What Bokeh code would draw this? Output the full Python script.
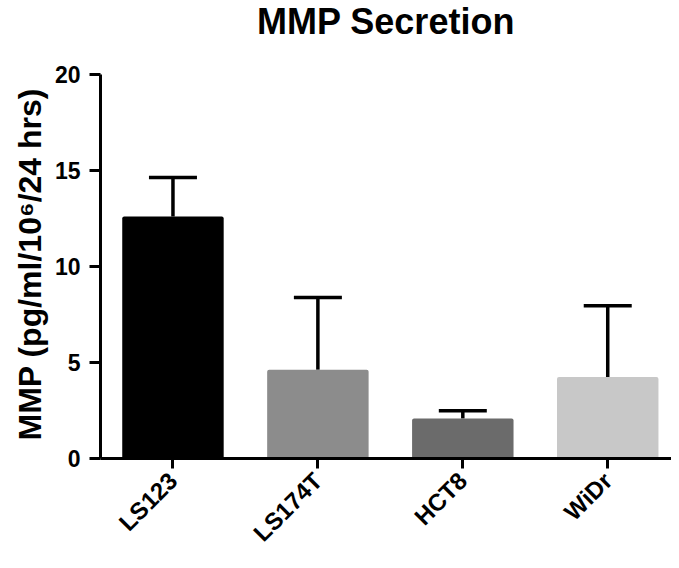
from bokeh.plotting import figure
from bokeh.models import Range1d, FixedTicker, Whisker, ColumnDataSource, TeeHead, Label, Title
from bokeh.embed import file_html
from bokeh.resources import INLINE
import math

cells = ["LS123", "LS174T", "HCT8", "WiDr"]
mean = [12.6, 4.62, 2.08, 4.25]
upper = [14.64, 8.39, 2.49, 7.95]
colors = ["#000000", "#8c8c8c", "#6b6b6b", "#c8c8c8"]
y_ticks = [0, 5, 10, 15, 20]
positions = list(range(len(cells)))
title_text = "MMP Secretion"
y_label_text = "MMP (pg/ml/10\u2076/24 hrs)"

FONT = "Liberation Sans"

# layout (pixels)
W, H = 671, 560
BL, BR, BB = 100, 0, 102
AXIS_TOP = 74          # y axis top (value 20) measured from top of canvas
TITLE_BASE = 21        # title anchor from top of canvas
YLABEL_START = 18      # y label starts this far above the x axis
FH = H - BB            # frame height (frame starts at top of canvas)
y_axis_max = y_ticks[-1]
y_end = y_axis_max * FH / (FH - AXIS_TOP)
px_per_unit = FH / y_end
x0, x1 = -0.5, 3.44

src = ColumnDataSource(dict(x=positions, top=mean, upper=upper, color=colors, name=cells))

p = figure(width=W, height=H, output_backend="svg", toolbar_location=None,
           x_range=Range1d(x0, x1), y_range=Range1d(0, y_end),
           min_border_left=BL, min_border_right=BR, min_border_top=0, min_border_bottom=BB)

p.vbar(x="x", top="top", bottom=0, width=0.7, color="color", line_color=None,
       border_radius=2, source=src)

w = Whisker(base="x", lower="top", upper="upper", source=src, dimension="height",
            line_color="black", line_width=3.5,
            upper_head=TeeHead(size=48, line_color="black", line_width=3.5),
            lower_head=None)
p.add_layout(w)

p.add_layout(Label(x=(x0 + x1) / 2, y=y_end - TITLE_BASE / px_per_unit, text=title_text,
                   text_font=FONT, text_font_size="36px", text_font_style="bold",
                   text_color="black", text_align="center", text_baseline="alphabetic"))

p.xgrid.visible = False
p.ygrid.visible = False
p.outline_line_color = None
p.background_fill_color = "white"
p.border_fill_color = "white"

# y axis
p.yaxis.ticker = FixedTicker(ticks=y_ticks)
p.yaxis.bounds = (0, y_axis_max)
p.yaxis.major_label_text_font = FONT
p.yaxis.major_label_text_font_size = "23px"
p.yaxis.major_label_text_font_style = "bold"
p.yaxis.major_label_text_color = "black"
p.yaxis.major_label_standoff = 9
p.yaxis.axis_line_width = 3
p.yaxis.axis_line_color = "black"
p.yaxis.major_tick_line_width = 3
p.yaxis.major_tick_line_color = "black"
p.yaxis.major_tick_out = 11
p.yaxis.major_tick_in = 0
p.yaxis.minor_tick_line_color = None

# y axis title (starts just above the x axis and runs upward)
p.add_layout(Title(text=y_label_text, align="left", offset=YLABEL_START,
                   text_font=FONT, text_font_size="32px", text_font_style="bold",
                   text_color="black", standoff=8), "left")

# x axis
p.xaxis.ticker = FixedTicker(ticks=positions)
p.xaxis.major_label_overrides = {i: c for i, c in zip(positions, cells)}
p.xaxis.major_label_orientation = math.pi / 4
p.xaxis.major_label_text_font = FONT
p.xaxis.major_label_text_font_size = "24px"
p.xaxis.major_label_text_font_style = "bold"
p.xaxis.major_label_text_color = "black"
p.xaxis.major_label_standoff = 8
p.xaxis.axis_line_width = 3
p.xaxis.axis_line_color = "black"
p.xaxis.major_tick_line_width = 3
p.xaxis.major_tick_line_color = "black"
p.xaxis.major_tick_out = 10
p.xaxis.major_tick_in = 0
p.xaxis.minor_tick_line_color = None

open("out.html", "w").write(file_html(p, INLINE))
